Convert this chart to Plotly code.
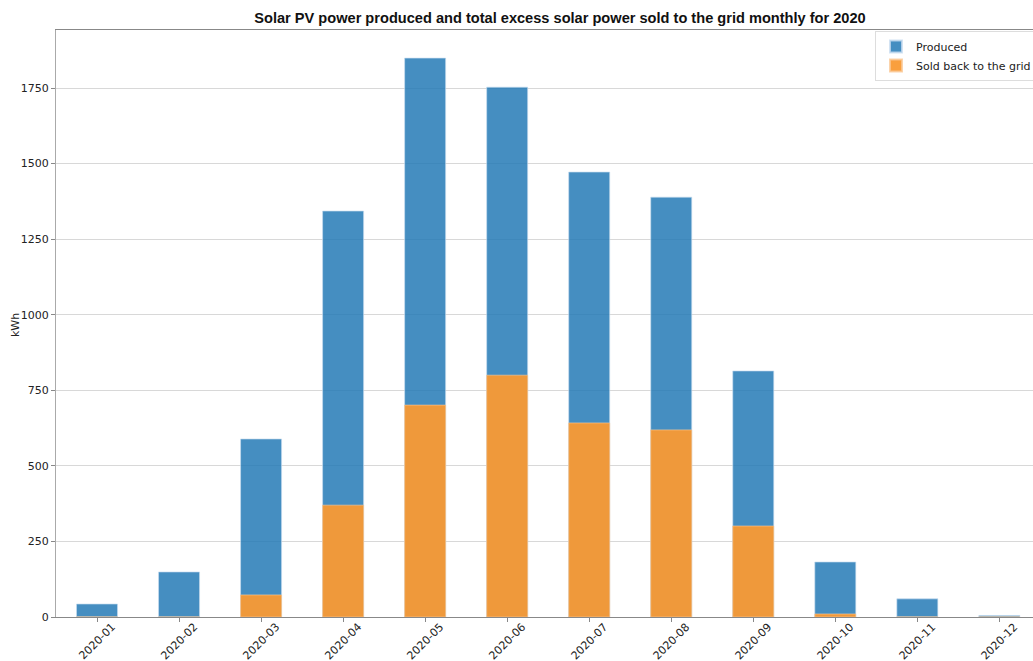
import plotly.graph_objects as go

months = ["2020-01", "2020-02", "2020-03", "2020-04", "2020-05", "2020-06",
          "2020-07", "2020-08", "2020-09", "2020-10", "2020-11", "2020-12"]
produced = [43, 149, 589, 1343, 1849, 1753, 1472, 1389, 814, 182, 60, 5]
sold = [0, 0, 73, 370, 701, 800, 642, 619, 301, 10, 0, 0]
y_ticks = [0, 250, 500, 750, 1000, 1250, 1500, 1750]

W, H = 1033, 661
L, R, T, B = 56, 0, 30, 44
pw = W - L - R
ph = H - T - B

xs = list(range(len(months)))

fig = go.Figure()
fig.add_trace(go.Bar(x=xs, y=produced, name="Produced",
                     width=0.5,
                     marker=dict(color="rgba(31,119,180,0.83)",
                                 line=dict(width=0.8, color="rgba(200,220,240,0.8)"))))
fig.add_trace(go.Bar(x=xs, y=sold, name="Sold back to the grid",
                     width=0.5,
                     marker=dict(color="rgba(249,154,52,0.95)",
                                 line=dict(width=0.8, color="rgba(250,200,150,0.8)"))))

fig.update_layout(
    width=W, height=H,
    barmode="overlay",
    plot_bgcolor="white", paper_bgcolor="white",
    margin=dict(l=L, r=R, t=T, b=B, autoexpand=False),
    font=dict(family="DejaVu Sans", size=11, color="#222"),
    title=dict(text="<b>Solar PV power produced and total excess solar power sold to the grid monthly for 2020</b>",
               x=560 / W, xanchor="center", y=1 - 18 / H, yanchor="middle",
               font=dict(family="Liberation Sans", size=14.6, color="#111")),
    legend=dict(x=(875 - L) / pw, xanchor="left", y=(H - B - 31) / ph, yanchor="top",
                bgcolor="rgba(255,255,255,0.85)", bordercolor="#dddddd", borderwidth=1,
                font=dict(family="DejaVu Sans", size=11, color="#222"),
                tracegroupgap=0, itemsizing="constant", itemwidth=30),
    showlegend=True,
    bargap=0.5,
)
fig.update_xaxes(
    tickmode="array", tickvals=xs, ticktext=months, showticklabels=False,
    range=[-0.5, 11.41], automargin=False,
    showgrid=False, showline=True, linecolor="#888", linewidth=1, mirror=True,
    ticks="outside", ticklen=4, tickcolor="#888",
)
fig.update_yaxes(
    range=[0, 1942], tickvals=y_ticks, automargin=False,
    showgrid=True, gridcolor="#d8d8d8", gridwidth=1,
    zeroline=False, showline=True, linecolor="#aaa", linewidth=1,
    ticks="outside", ticklen=4, tickcolor="#888",
    tickfont=dict(family="DejaVu Sans", size=11, color="#222"),
)
label_y = (H - B - 641) / ph
for x, m in zip(xs, months):
    fig.add_annotation(text=m, textangle=-45, x=x, xref="x", y=label_y, yref="paper",
                       showarrow=False, xanchor="center", yanchor="middle",
                       font=dict(family="DejaVu Sans", size=11, color="#222"))
fig.add_annotation(text="kWh", textangle=-90, xref="paper", yref="paper",
                   x=(15 - L) / pw, y=(H - B - 325) / ph, showarrow=False,
                   xanchor="center", yanchor="middle",
                   font=dict(family="DejaVu Sans", size=11, color="#222"))

fig.write_html("out.html", post_script="document.body.style.margin='0';",
               config={"displayModeBar": False})
